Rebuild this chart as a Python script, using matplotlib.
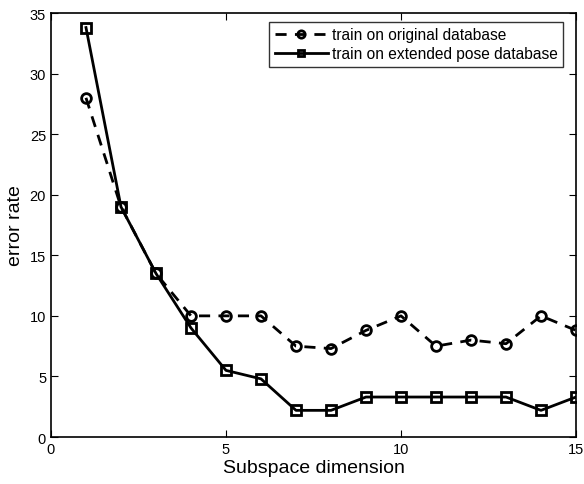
import matplotlib
matplotlib.use("Agg")
import matplotlib.pyplot as plt

plt.rcParams['font.family'] = ['Liberation Sans', 'DejaVu Sans']

x = list(range(1, 16))
original = [28, 19, 13.5, 10, 10, 10, 7.5, 7.3, 8.8, 10, 7.5, 8, 7.7, 10, 8.8]
extended = [33.8, 19, 13.5, 9, 5.5, 4.8, 2.2, 2.2, 3.3, 3.3, 3.3, 3.3, 3.3, 2.2, 3.3]
labels = ['train on original database', 'train on extended pose database']

fig = plt.figure(figsize=(5.84, 4.85), dpi=100)
ax = fig.add_axes([0.0873, 0.0969, 0.8990, 0.8742])

ax.plot(x, original, color='black', linestyle=(0, (4, 3)), linewidth=2,
        marker='o', markersize=7, markerfacecolor='none', markeredgewidth=2,
        label=labels[0])
ax.plot(x, extended, color='black', linestyle='-', linewidth=2,
        marker='s', markersize=6.5, markerfacecolor='none', markeredgewidth=2,
        label=labels[1])

ax.set_xlim(0, 15)
ax.set_ylim(0, 35)
ax.set_xticks([0, 5, 10, 15])
ax.set_yticks([0, 5, 10, 15, 20, 25, 30, 35])
ax.tick_params(direction='in', top=True, right=True, labelsize=10.5, length=5)
for s in ax.spines.values():
    s.set_linewidth(1.2)
ax.set_xlabel('Subspace dimension', fontsize=14, labelpad=2)
ax.set_ylabel('error rate', fontsize=14, labelpad=4)

leg = ax.legend(loc='upper right', bbox_to_anchor=(563 / 584, 1 - 23 / 485),
                bbox_transform=fig.transFigure, borderaxespad=0,
                fontsize=11.2, frameon=True, fancybox=False,
                edgecolor='black', handlelength=3.4, borderpad=0.35,
                labelspacing=0.25, handletextpad=0.25, markerscale=0.75)
leg.get_frame().set_linewidth(1.0)

fig.savefig('out.png', dpi=100)
